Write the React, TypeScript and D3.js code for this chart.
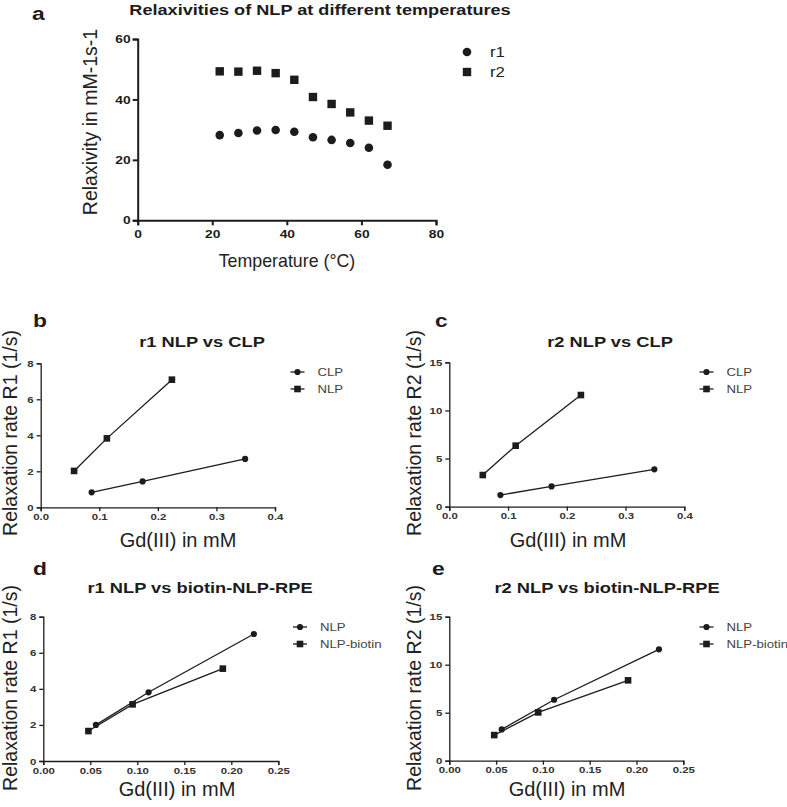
import React, { useEffect, useRef } from "react";
import * as d3 from "d3";

// ---------- data ----------
const tempC = [22, 27, 32, 37, 42, 47, 52, 57, 62, 67];
const r1Relax = [28.2, 28.9, 29.7, 29.9, 29.3, 27.5, 26.6, 25.6, 24.0, 18.4];
const r2Relax = [49.3, 49.2, 49.5, 48.7, 46.5, 40.8, 38.5, 35.7, 33.0, 31.3];

const clpGd = [0.087, 0.174, 0.349];
const nlpGd = [0.057, 0.113, 0.224];
const clpR1 = [0.83, 1.44, 2.69];
const nlpR1 = [2.02, 3.83, 7.09];
const clpR2 = [1.21, 2.11, 3.88];
const nlpR2 = [3.29, 6.34, 11.6];

const nlpGdB = [0.056, 0.112, 0.224];
const biotinGd = [0.048, 0.095, 0.191];
const nlpR1d = [2.0, 3.81, 7.04];
const biotinR1 = [1.66, 3.14, 5.12];
const nlpR2e = [3.26, 6.35, 11.6];
const biotinR2 = [2.67, 5.03, 8.37];

const tempTicks = [0, 20, 40, 60, 80];
const relaxTicks = [0, 20, 40, 60];
const gdTicks4 = [0, 0.1, 0.2, 0.3, 0.4];
const gdTicks25 = [0, 0.05, 0.1, 0.15, 0.2, 0.25];
const r1Ticks = [0, 2, 4, 6, 8];
const r2Ticks = [0, 5, 10, 15];

const FONT = "'Liberation Sans', Arial, Helvetica, sans-serif";
const INK = "#1c1c1c";
const SX = 1.2; // horizontal stretch of bold labels in the reference

type Series = { name: string; xs: number[]; ys: number[]; shape: "circle" | "square" };

interface PanelCfg {
  letter: string;
  letterX: number;
  letterY: number;
  title: string;
  titleX: number;
  titleY: number;
  left: number;
  right: number;
  top: number;
  bottom: number;
  xDomain: [number, number];
  yDomain: [number, number];
  xTicks: number[];
  yTicks: number[];
  xFmt: string;
  yFmt: string;
  xTitle: string;
  xTitleX: number;
  xTitleY: number;
  yTitle: string;
  yTitleX: number;
  yTitleY: number;
  series: Series[];
  lines: boolean;
  legendX: number;
  legendY: number;
  big: boolean;
}

function addText(
  g: any,
  o: {
    x: number;
    y: number;
    text: string;
    size: number;
    bold?: boolean;
    anchor?: string;
    sx?: number;
    rotate?: number;
    fill?: string;
    dy?: string;
  }
) {
  const t = g
    .append("text")
    .attr("transform", `translate(${o.x},${o.y})${o.rotate ? ` rotate(${o.rotate})` : ""} scale(${o.sx ?? 1},1)`)
    .attr("text-anchor", o.anchor ?? "start")
    .attr("font-family", FONT)
    .attr("font-weight", o.bold ? "bold" : "normal")
    .attr("font-size", o.size)
    .attr("fill", o.fill ?? INK)
    .text(o.text);
  if (o.dy) t.attr("dy", o.dy);
  return t;
}

function drawPanel(svg: d3.Selection<SVGSVGElement, unknown, null, undefined>, c: PanelCfg) {
  const g = svg.append("g");
  const x = d3.scaleLinear().domain(c.xDomain).range([c.left, c.right]);
  const y = d3.scaleLinear().domain(c.yDomain).range([c.bottom, c.top]);
  const axisW = c.big ? 2 : 1.3;
  const tickFs = c.big ? 11.5 : 9.5;

  addText(g, { x: c.letterX, y: c.letterY, text: c.letter, size: 19, bold: true, sx: SX });
  addText(g, {
    x: c.titleX,
    y: c.titleY,
    text: c.title,
    size: c.big ? 15.5 : 15,
    bold: true,
    anchor: "middle",
    sx: c.big ? 1.17 : 1.22,
  });

  const xAxis = d3
    .axisBottom(x)
    .tickValues(c.xTicks)
    .tickFormat(d3.format(c.xFmt) as any)
    .tickSizeOuter(0)
    .tickSize(c.big ? 5 : 4)
    .tickPadding(c.big ? 5 : 2);
  const yAxis = d3
    .axisLeft(y)
    .tickValues(c.yTicks)
    .tickFormat(d3.format(c.yFmt) as any)
    .tickSizeOuter(0)
    .tickSize(c.big ? 5 : 4)
    .tickPadding(c.big ? 2 : 3);

  const gx = g.append("g").attr("transform", `translate(0,${c.bottom})`).call(xAxis);
  const gy = g.append("g").attr("transform", `translate(${c.left},0)`).call(yAxis);
  [gx, gy].forEach((ax) => {
    ax.select(".domain").attr("stroke", INK).attr("stroke-width", axisW);
    ax.selectAll(".tick line").attr("stroke", INK).attr("stroke-width", axisW);
    ax.selectAll(".tick text")
      .attr("font-family", FONT)
      .attr("font-weight", "bold")
      .attr("font-size", tickFs)
      .attr("fill", c.big ? INK : "#333")
      .each(function (this: SVGTextElement) {
        const sel = d3.select(this);
        const tx = +(sel.attr("x") || 0);
        sel.attr("x", 0).attr("transform", `translate(${tx},0) scale(${SX},1)`);
      });
  });

  addText(g, {
    x: c.xTitleX,
    y: c.xTitleY,
    text: c.xTitle,
    size: c.big ? 17.8 : 20,
    anchor: "middle",
    fill: "#222",
  });
  addText(g, {
    x: c.yTitleX,
    y: c.yTitleY,
    text: c.yTitle,
    size: 19.5,
    anchor: "middle",
    rotate: -90,
    fill: "#222",
  });

  const circR = c.big ? 4.3 : 3.1;
  const sq = c.big ? 8.4 : 6.6;

  const drawMarker = (sel: any, shape: string, cx: number, cy: number) => {
    if (shape === "circle") {
      sel.append("circle").attr("cx", cx).attr("cy", cy).attr("r", circR).attr("fill", INK);
    } else {
      sel
        .append("rect")
        .attr("x", cx - sq / 2)
        .attr("y", cy - sq / 2)
        .attr("width", sq)
        .attr("height", sq)
        .attr("fill", INK);
    }
  };

  c.series.forEach((s) => {
    const pts = s.xs.map((v, i) => [x(v), y(s.ys[i])] as [number, number]);
    if (c.lines) {
      g.append("path")
        .attr("d", d3.line()(pts))
        .attr("fill", "none")
        .attr("stroke", INK)
        .attr("stroke-width", 1.3);
    }
    const mg = g.append("g");
    pts.forEach((p) => drawMarker(mg, s.shape, p[0], p[1]));
  });

  const lg = g.append("g");
  const step = c.big ? 20 : 17;
  c.series.forEach((s, i) => {
    const ly = c.legendY + i * step;
    if (c.lines) {
      lg.append("line")
        .attr("x1", c.legendX - 7)
        .attr("x2", c.legendX + 7)
        .attr("y1", ly)
        .attr("y2", ly)
        .attr("stroke", INK)
        .attr("stroke-width", 1.3);
    }
    drawMarker(lg, s.shape, c.legendX, ly);
    addText(lg, {
      x: c.legendX + (c.big ? 23 : 20),
      y: ly,
      text: s.name,
      size: c.big ? 14 : 11,
      sx: SX,
      dy: "0.36em",
      fill: c.big ? "#222" : "#444",
    });
  });
}

export default function App() {
  const ref = useRef<SVGSVGElement | null>(null);
  useEffect(() => {
    if (!ref.current) return;
    const svg = d3.select(ref.current);
    svg.selectAll("*").remove();

    const panels: PanelCfg[] = [
      {
        letter: "a", letterX: 32, letterY: 20,
        title: "Relaxivities of NLP at different temperatures", titleX: 320, titleY: 15,
        left: 137.7, right: 436, top: 39, bottom: 220.3,
        xDomain: [0, 80], yDomain: [0, 60], xTicks: tempTicks, yTicks: relaxTicks,
        xFmt: "d", yFmt: "d",
        xTitle: "Temperature (°C)", xTitleX: 287, xTitleY: 267,
        yTitle: "Relaxivity in mM-1s-1", yTitleX: 97, yTitleY: 122,
        series: [
          { name: "r1", xs: tempC, ys: r1Relax, shape: "circle" },
          { name: "r2", xs: tempC, ys: r2Relax, shape: "square" },
        ],
        lines: false, legendX: 467, legendY: 52, big: true,
      },
      {
        letter: "b", letterX: 33, letterY: 327,
        title: "r1 NLP vs CLP", titleX: 202, titleY: 347,
        left: 40.7, right: 275, top: 363.3, bottom: 507.3,
        xDomain: [0, 0.4], yDomain: [0, 8], xTicks: gdTicks4, yTicks: r1Ticks,
        xFmt: ".1f", yFmt: "d",
        xTitle: "Gd(III) in mM", xTitleX: 178, xTitleY: 547,
        yTitle: "Relaxation rate R1 (1/s)", yTitleX: 17, yTitleY: 433,
        series: [
          { name: "CLP", xs: clpGd, ys: clpR1, shape: "circle" },
          { name: "NLP", xs: nlpGd, ys: nlpR1, shape: "square" },
        ],
        lines: true, legendX: 297.5, legendY: 372, big: false,
      },
      {
        letter: "c", letterX: 435, letterY: 327,
        title: "r2 NLP vs CLP", titleX: 610, titleY: 347,
        left: 449.3, right: 684.3, top: 362.3, bottom: 506.7,
        xDomain: [0, 0.4], yDomain: [0, 15], xTicks: gdTicks4, yTicks: r2Ticks,
        xFmt: ".1f", yFmt: "d",
        xTitle: "Gd(III) in mM", xTitleX: 568, xTitleY: 547,
        yTitle: "Relaxation rate R2 (1/s)", yTitleX: 421, yTitleY: 433,
        series: [
          { name: "CLP", xs: clpGd, ys: clpR2, shape: "circle" },
          { name: "NLP", xs: nlpGd, ys: nlpR2, shape: "square" },
        ],
        lines: true, legendX: 706.5, legendY: 372, big: false,
      },
      {
        letter: "d", letterX: 33, letterY: 575,
        title: "r1 NLP vs biotin-NLP-RPE", titleX: 200, titleY: 593,
        left: 43.3, right: 278.3, top: 616.7, bottom: 761,
        xDomain: [0, 0.25], yDomain: [0, 8], xTicks: gdTicks25, yTicks: r1Ticks,
        xFmt: ".2f", yFmt: "d",
        xTitle: "Gd(III) in mM", xTitleX: 177, xTitleY: 796,
        yTitle: "Relaxation rate R1 (1/s)", yTitleX: 17, yTitleY: 688,
        series: [
          { name: "NLP", xs: nlpGdB, ys: nlpR1d, shape: "circle" },
          { name: "NLP-biotin", xs: biotinGd, ys: biotinR1, shape: "square" },
        ],
        lines: true, legendX: 300, legendY: 627, big: false,
      },
      {
        letter: "e", letterX: 432, letterY: 575,
        title: "r2 NLP vs biotin-NLP-RPE", titleX: 607, titleY: 593,
        left: 449.3, right: 683.3, top: 616.7, bottom: 760.7,
        xDomain: [0, 0.25], yDomain: [0, 15], xTicks: gdTicks25, yTicks: r2Ticks,
        xFmt: ".2f", yFmt: "d",
        xTitle: "Gd(III) in mM", xTitleX: 567, xTitleY: 796,
        yTitle: "Relaxation rate R2 (1/s)", yTitleX: 421, yTitleY: 688,
        series: [
          { name: "NLP", xs: nlpGdB, ys: nlpR2e, shape: "circle" },
          { name: "NLP-biotin", xs: biotinGd, ys: biotinR2, shape: "square" },
        ],
        lines: true, legendX: 706.5, legendY: 627, big: false,
      },
    ];
    panels.forEach((p) => drawPanel(svg, p));
  }, []);

  return (
    <svg
      ref={ref}
      width={787}
      height={807}
      style={{ position: "absolute", left: 0, top: 0, background: "#fff" }}
    />
  );
}
